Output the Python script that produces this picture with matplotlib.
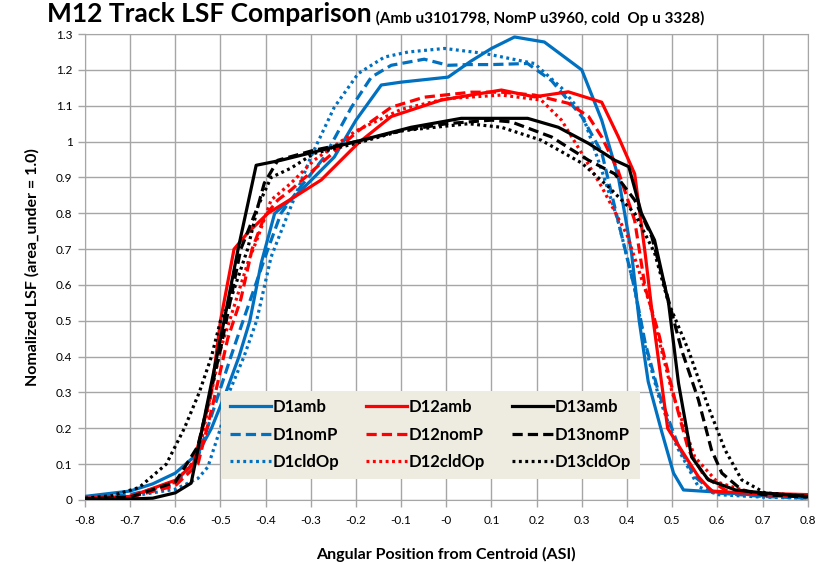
import matplotlib.pyplot as plt
import numpy as np

# data
d1amb_x = [-0.8, -0.7, -0.65, -0.6, -0.55, -0.52, -0.488, -0.459, -0.435, -0.41, -0.38, -0.328, -0.293,
           -0.248, -0.2, -0.144, -0.1, 0.004, 0.055, 0.1, 0.151, 0.217, 0.3, 0.344, 0.381, 0.41, 0.427,
           0.447, 0.477, 0.503, 0.525, 0.6, 0.7, 0.8]
d1amb_y = [0.01, 0.025, 0.045, 0.075, 0.13, 0.2, 0.3, 0.4, 0.5, 0.66, 0.8, 0.856, 0.9,
           0.957, 1.06, 1.158, 1.166, 1.18, 1.225, 1.26, 1.292, 1.278, 1.2, 1.06, 0.9, 0.69, 0.5,
           0.33, 0.19, 0.075, 0.028, 0.022, 0.012, 0.01]

d1nom_x = [-0.8, -0.7, -0.6, -0.55, -0.503, -0.477, -0.45, -0.395, -0.366, -0.328, -0.27, -0.21, -0.166,
           -0.122, -0.049, 0.004, 0.05, 0.1, 0.18, 0.233, 0.3, 0.344, 0.38, 0.417, 0.44, 0.47, 0.514, 0.55,
           0.594, 0.7, 0.8]
d1nom_y = [0.005, 0.015, 0.045, 0.12, 0.3, 0.4, 0.5, 0.7, 0.8, 0.865, 0.957, 1.096, 1.18,
           1.213, 1.23, 1.213, 1.215, 1.215, 1.218, 1.17, 1.07, 0.97, 0.78, 0.59, 0.44, 0.3, 0.15, 0.065,
           0.02, 0.01, 0.005]

d1cld_x = [-0.8, -0.7, -0.6, -0.55, -0.528, -0.5, -0.481, -0.448, -0.42, -0.388, -0.35, -0.3, -0.248,
           -0.195, -0.137, -0.085, -0.004, 0.085, 0.195, 0.255, 0.3, 0.344, 0.38, 0.417, 0.44, 0.47, 0.51,
           0.558, 0.6, 0.7, 0.8]
d1cld_y = [0.005, 0.01, 0.03, 0.06, 0.092, 0.2, 0.3, 0.4, 0.5, 0.678, 0.8, 0.957, 1.096,
           1.19, 1.236, 1.25, 1.26, 1.246, 1.218, 1.15, 1.08, 0.92, 0.78, 0.59, 0.43, 0.29, 0.15,
           0.037, 0.015, 0.008, 0.005]

d12amb_x = [-0.8, -0.7, -0.6, -0.56, -0.52, -0.5, -0.47, -0.44, -0.395, -0.337, -0.277, -0.195, -0.122,
            -0.011, 0.055, 0.122, 0.195, 0.27, 0.344, 0.381, 0.417, 0.44, 0.455, 0.49, 0.52, 0.558, 0.587,
            0.65, 0.8]
d12amb_y = [0.005, 0.01, 0.055, 0.1, 0.3, 0.5, 0.7, 0.745, 0.8, 0.845, 0.893, 0.996, 1.07,
            1.116, 1.13, 1.144, 1.125, 1.139, 1.11, 1.013, 0.91, 0.69, 0.53, 0.2, 0.14, 0.065, 0.025,
            0.02, 0.015]

d12nom_x = [-0.8, -0.7, -0.6, -0.55, -0.52, -0.484, -0.455, -0.43, -0.403, -0.373, -0.344, -0.277, -0.195,
            -0.122, -0.049, 0.055, 0.122, 0.195, 0.27, 0.315, 0.344, 0.38, 0.417, 0.44, 0.47, 0.506, 0.536,
            0.572, 0.617, 0.7, 0.8]
d12nom_y = [0.003, 0.008, 0.04, 0.1, 0.25, 0.45, 0.56, 0.7, 0.79, 0.837, 0.865, 0.94, 1.03,
            1.096, 1.124, 1.138, 1.138, 1.13, 1.107, 1.07, 1.013, 0.92, 0.78, 0.594, 0.465, 0.28, 0.14,
            0.065, 0.028, 0.015, 0.01]

d12cld_x = [-0.8, -0.7, -0.6, -0.55, -0.5, -0.47, -0.44, -0.417, -0.388, -0.344, -0.293, -0.2, -0.1, 0.0,
            0.122, 0.21, 0.255, 0.3, 0.344, 0.4, 0.45, 0.5, 0.55, 0.6, 0.65, 0.7, 0.8]
d12cld_y = [0.003, 0.01, 0.05, 0.12, 0.42, 0.54, 0.66, 0.734, 0.837, 0.884, 0.948, 1.03, 1.09, 1.12,
            1.13, 1.116, 1.06, 0.967, 0.874, 0.74, 0.55, 0.3, 0.12, 0.05, 0.03, 0.015, 0.01]

d13amb_x = [-0.8, -0.7, -0.65, -0.6, -0.565, -0.492, -0.461, -0.421, -0.366, -0.277, -0.188, -0.078, 0.033,
            0.18, 0.248, 0.315, 0.373, 0.404, 0.432, 0.461, 0.492, 0.514, 0.543, 0.58, 0.64, 0.7, 0.8]
d13amb_y = [0.003, 0.003, 0.005, 0.02, 0.047, 0.5, 0.7, 0.934, 0.948, 0.976, 1.004, 1.04, 1.065,
            1.065, 1.04, 0.995, 0.948, 0.93, 0.8, 0.725, 0.55, 0.326, 0.12, 0.056, 0.028, 0.02, 0.01]

d13nom_x = [-0.8, -0.7, -0.6, -0.55, -0.5, -0.455, -0.417, -0.403, -0.373, -0.293, -0.2, -0.1, 0.0, 0.1,
            0.144, 0.233, 0.315, 0.373, 0.417, 0.455, 0.521, 0.558, 0.587, 0.61, 0.654, 0.7, 0.8]
d13nom_y = [0.003, 0.008, 0.05, 0.15, 0.42, 0.7, 0.82, 0.884, 0.948, 0.976, 1.0, 1.03, 1.05, 1.06,
            1.055, 1.013, 0.948, 0.91, 0.837, 0.734, 0.418, 0.28, 0.14, 0.075, 0.028, 0.015, 0.008]

d13cld_x = [-0.8, -0.74, -0.68, -0.62, -0.58, -0.547, -0.52, -0.5, -0.48, -0.44, -0.417, -0.388, -0.344,
            -0.293, -0.2, -0.1, 0.049, 0.122, 0.21, 0.3, 0.359, 0.417, 0.461, 0.492, 0.536, 0.58, 0.617,
            0.654, 0.705, 0.8]
d13cld_y = [0.005, 0.012, 0.035, 0.1, 0.2, 0.3, 0.4, 0.5, 0.55, 0.7, 0.82, 0.9, 0.926,
            0.967, 0.995, 1.03, 1.05, 1.04, 1.004, 0.94, 0.874, 0.8, 0.69, 0.55, 0.418, 0.26, 0.14,
            0.056, 0.02, 0.01]

x_ticks = np.round(np.arange(-0.8, 0.81, 0.1), 1)
y_ticks = np.round(np.arange(0, 1.31, 0.1), 1)

#--------------------------------------------------------
plt.rcParams['font.family'] = ['Lato', 'DejaVu Sans']

BLUE = '#0070C0'
RED = '#FF0000'
BLACK = '#000000'
DASH = (0, (3.2, 1.6))
DOT = (0, (0.9, 1.1))

fig = plt.figure(figsize=(8.25, 5.64), dpi=100)
ax = fig.add_axes([0.103, 0.1135, 0.876, 0.826])

series = [
    (d1amb_x, d1amb_y, BLUE, '-', 'D1amb'),
    (d1nom_x, d1nom_y, BLUE, DASH, 'D1nomP'),
    (d1cld_x, d1cld_y, BLUE, DOT, 'D1cldOp'),
    (d12amb_x, d12amb_y, RED, '-', 'D12amb'),
    (d12nom_x, d12nom_y, RED, DASH, 'D12nomP'),
    (d12cld_x, d12cld_y, RED, DOT, 'D12cldOp'),
    (d13amb_x, d13amb_y, BLACK, '-', 'D13amb'),
    (d13nom_x, d13nom_y, BLACK, DASH, 'D13nomP'),
    (d13cld_x, d13cld_y, BLACK, DOT, 'D13cldOp'),
]
for xs, ys, c, ls, lab in series:
    ax.plot(xs, ys, color=c, linestyle=ls, linewidth=2.3, label=lab, zorder=3)

ax.set_xlim(-0.8, 0.8)
ax.set_ylim(0, 1.3)
ax.set_xticks(x_ticks)
ax.set_yticks(y_ticks)
ax.set_xticklabels([('%g' % v) for v in x_ticks], fontsize=8.5)
ax.set_yticklabels([('%g' % v) for v in y_ticks], fontsize=8.5)
ax.grid(True, color='#A6A6A6', linewidth=1.0, zorder=0)
for sp in ax.spines.values():
    sp.set_color('#A6A6A6')
ax.tick_params(axis='both', color='#A6A6A6', length=5, width=1)
ax.tick_params(axis='x', pad=6)
ax.tick_params(axis='y', pad=4)
ax.set_axisbelow(True)

ax.set_xlabel('Angular Position from Centroid (ASI)', fontsize=11.5, fontweight='bold', labelpad=15)
ax.set_ylabel('Nomalized LSF (area_under = 1.0)', fontsize=11.5, fontweight='bold', labelpad=12)

t = fig.text(0.057, 0.961, 'M12 Track LSF Comparison', fontsize=19, fontweight='bold', va='baseline')
ax.annotate(' (Amb u3101798, NomP u3960, cold  Op u 3328)', xy=(1, 0), xycoords=t,
            fontsize=11, fontweight='bold', va='bottom', ha='left')

leg = ax.legend(loc='lower left', bbox_to_anchor=(0.177, 0.028, 0.602, 0.212), mode='expand',
                ncol=3, frameon=True, fancybox=False, prop={'weight': 'bold', 'size': 12},
                handlelength=2.5, handletextpad=0.1, borderpad=0.5, labelspacing=0.7,
                columnspacing=1.0)
leg.get_frame().set_facecolor('#EEEBE0')
leg.get_frame().set_edgecolor('none')
leg.get_frame().set_alpha(1)
leg.set_zorder(5)

plt.savefig('out.png', dpi=100)
